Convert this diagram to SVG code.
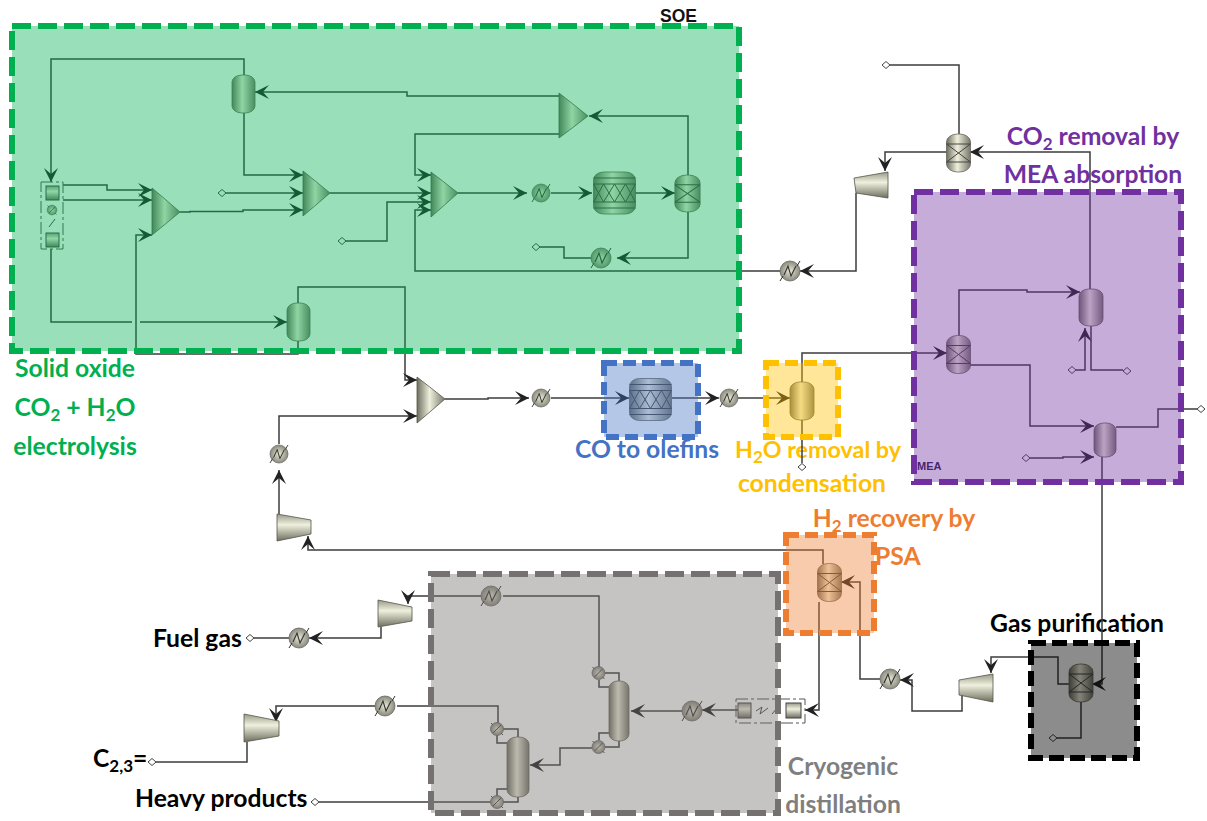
<svg xmlns="http://www.w3.org/2000/svg" width="1207" height="821" viewBox="0 0 1207 821">
<style>
.c{fill:none;stroke:#3c3c3c;stroke-width:1.5}
.a{marker-end:url(#ah)}
.t{fill:url(#gh);stroke:#55554a;stroke-width:.8}
.comp{fill:url(#gv);stroke:#55554a;stroke-width:.8}
.v{fill:url(#gh);stroke:#66665a;stroke-width:.8}
.ln{fill:none;stroke:#444;stroke-width:1}
.fr{fill:none;stroke:#555;stroke-width:1;stroke-dasharray:12 3 3 3}
.box{fill:url(#gv);stroke:#444;stroke-width:1}
.reg{stroke-width:6}
.lb{font-family:Lato,"Open Sans","Liberation Sans",sans-serif;font-weight:700;font-size:24.700px}
.m{text-anchor:middle}
.sb{font-size:17px}
</style>
<defs>
<linearGradient id="gh" x1="0" x2="1" y1="0" y2="0"><stop offset="0" stop-color="#6e6e60"/><stop offset=".45" stop-color="#efefdc"/><stop offset="1" stop-color="#77776a"/></linearGradient>
<linearGradient id="gv" x1="0" x2="0" y1="0" y2="1"><stop offset="0" stop-color="#9a9a8a"/><stop offset=".4" stop-color="#f0f0de"/><stop offset="1" stop-color="#6e6e60"/></linearGradient>
<radialGradient id="gr"><stop offset="0" stop-color="#e8e8d8"/><stop offset="1" stop-color="#8a8a7c"/></radialGradient>
<marker id="ah" markerUnits="userSpaceOnUse" markerWidth="16" markerHeight="16" refX="14" refY="7" orient="auto" overflow="visible"><path d="M0,0 L14,7 L0,14 L6,7 Z" fill="#222"/></marker>
<g id="hx"><circle r="10" fill="url(#gr)" stroke="#666" stroke-width=".8"/><path d="M-6,4 L-2,-5 L1,5 L6,-5" fill="none" stroke="#333" stroke-width="1.100"/><path d="M-10,10 L-7,5 M7,-5 L10,-10" stroke="#333" fill="none"/></g>
<g id="cx"><rect class="v" x="-12" y="-19" width="24" height="38" rx="11" ry="8"/><path class="ln" d="M-12,-9H12M-12,9H12M-12,-9L12,9M12,-9L-12,9"/></g>
<g id="rx"><rect class="v" x="-21" y="-21" width="42" height="42" rx="10" ry="8"/><path class="ln" d="M-21,-15H21M-21,-9H21M-21,9H21M-21,15H21M-21,-9L-11,9L0,-9L11,9L21,-9M-21,9L-11,-9L0,9L11,-9L21,9"/></g>
<g id="cd"><circle r="6.500" fill="url(#gr)" stroke="#666" stroke-width=".8"/><path d="M-4,4L4,-4M-6,-6L-4,-4M4,4L6,6" stroke="#444"/></g>
<path id="dm" d="M-4,0L0,-3.500L4,0L0,3.500Z" fill="#fff" stroke="#444" stroke-width="1"/>
</defs>

<g id="labels">
<text class="lb m" x="75" y="377" fill="#00b050">Solid oxide</text>
<text class="lb m" x="75" y="416" fill="#00b050">CO<tspan class="sb" dy="5">2</tspan><tspan dy="-5"> + H</tspan><tspan class="sb" dy="5">2</tspan><tspan dy="-5">O</tspan></text>
<text class="lb m" x="75" y="455" fill="#00b050">electrolysis</text>
<text class="lb m" x="647" y="458" fill="#4472c4">CO to olefins</text>
<text class="lb m" x="818" y="458" fill="#ffc000" style="font-size:23.300px">H<tspan class="sb" dy="5">2</tspan><tspan dy="-5">O removal by</tspan></text>
<text class="lb m" x="812" y="492" fill="#ffc000">condensation</text>
<text class="lb m" x="894" y="527" fill="#ed7d31">H<tspan class="sb" dy="5">2</tspan><tspan dy="-5"> recovery by</tspan></text>
<text class="lb" x="875" y="565" fill="#ed7d31">PSA</text>
<text class="lb m" x="1093" y="145" fill="#7030a0">CO<tspan class="sb" dy="5">2</tspan><tspan dy="-5"> removal by</tspan></text>
<text class="lb m" x="1093" y="183" fill="#7030a0">MEA absorption</text>
<text class="lb m" x="1077" y="632" fill="#000">Gas purification</text>
<text class="lb" x="153" y="647" fill="#000">Fuel gas</text>
<text class="lb" x="93" y="767" fill="#000">C<tspan class="sb" dy="5">2,3</tspan><tspan dy="-5">=</tspan></text>
<text class="lb" x="135" y="807" fill="#000">Heavy products</text>
<text class="lb m" x="843" y="775" fill="#7f7f7f">Cryogenic</text>
<text class="lb m" x="843" y="813" fill="#7f7f7f">distillation</text>
<text x="917" y="470" font-family="Liberation Sans,sans-serif" font-weight="700" font-size="11" fill="#2a1a50">MEA</text>
</g>

<g id="connectors">
<path class="c a" d="M244,75V59H51V182"/>
<path class="c a" d="M559,96H407V92H255"/>
<path class="c a" d="M559,134H415V175H431"/>
<path class="c a" d="M244,113V175H303"/>
<path class="c a" d="M222,193H303"/>
<path class="c a" d="M180,212H190V211.500H243V210H303"/>
<path class="c a" d="M63,185H107V190H152"/>
<path class="c a" d="M63,200H152"/>
<path class="c a" d="M298,341V354H136V235H152"/>
<path class="c a" d="M51,249V322H132M140,322H287"/>
<path class="c a" d="M330,193H431"/>
<path class="c a" d="M342,241H387V202H431"/>
<path class="c a" d="M458,193H527"/>
<path class="c a" d="M551,193H592"/>
<path class="c a" d="M635,193H675"/>
<path class="c a" d="M688,175V116H589"/>
<path class="c a" d="M688,212V258H617"/>
<path class="c" d="M591,258H564V247H536"/>
<path class="c a" d="M780,271H415V210H431"/>
<path class="c a" d="M298,303V287H405V380H417"/>
<path class="c a" d="M279,444V416H417"/>
<path class="c a" d="M279,514V470"/>
<path class="c a" d="M823,564V550H308V536"/>
<path class="c a" d="M445,399H488V398H529"/>
<path class="c a" d="M551,398H629"/>
<path class="c a" d="M672,398H719"/>
<path class="c a" d="M738,398H790"/>
<path class="c a" d="M802,382V353H947"/>
<path class="c" d="M802,420V463"/>
<path class="c a" d="M959,336V290H1027V292H1080"/>
<path class="c a" d="M1090,289V152H970"/>
<path class="c" d="M959,134V65H890"/>
<path class="c a" d="M947,152H885V171"/>
<path class="c a" d="M856,193V271H800"/>
<path class="c a" d="M1076,370H1085V328"/>
<path class="c" d="M1091,326V370H1123"/>
<path class="c a" d="M970,365H1030V426H1094"/>
<path class="c" d="M1116,427H1158V409H1197"/>
<path class="c a" d="M1030,458H1063V457H1094"/>
<path class="c a" d="M1102,457V684H1092"/>
<path class="c a" d="M1070,684H1058V657H991V673"/>
<path class="c" d="M1081,702V738H1057"/>
<path class="c a" d="M962,695V711H912V680H900"/>
<path class="c a" d="M880,679H860V582H841"/>
<path class="c a" d="M819,602V710H805"/>
<path class="c a" d="M738,710H702"/>
<path class="c a" d="M682,711H631"/>
<path class="c" d="M599,667V596H503"/>
<path class="c a" d="M481,596H408V604"/>
<path class="c a" d="M381,627V638H309"/>
<path class="c" d="M289,638H254"/>
<path class="c a" d="M592,748H560V765H530"/>
<path class="c" d="M605,673H619V681M599,680V687H609M599,740V733H609M619,741V747H605"/>
<path class="c" d="M498,724V706H397"/>
<path class="c a" d="M375,706H276V722"/>
<path class="c" d="M247,742V762H156"/>
<path class="c" d="M497,802H319"/>
<path class="c" d="M503,729H518V737M497,735V743H507M497,796V789H507M518,797V802H503"/>
</g>

<g id="electrolyzer-soe"><rect class="fr" x="41" y="182" width="22" height="67"/><rect class="box" x="46" y="186" width="13" height="14"/><rect class="box" x="46" y="233" width="13" height="14"/><use href="#cd" transform="translate(52 210) scale(.75)"/><path class="ln" d="M49,227L55,219"/></g>
<g id="vessel-a"><rect class="v" x="232" y="75" width="23" height="38" rx="10" ry="7"/></g>
<g id="vessel-b"><rect class="v" x="287" y="303" width="23" height="38" rx="10" ry="7"/></g>
<g id="mixer-a"><polygon class="t" points="152,188 180,212 152,235"/></g>
<g id="mixer-b"><polygon class="t" points="303,171 330,193 303,216"/></g>
<g id="mixer-c"><polygon class="t" points="431,172 458,193 431,217"/></g>
<g id="splitter"><polygon class="t" points="559,93 588,116 559,138"/></g>
<g id="heater-1"><use href="#hx" transform="translate(541 193) scale(.9)"/></g>
<g id="reactor-soe"><use href="#rx" transform="translate(614.500 193)"/></g>
<g id="column-1"><use href="#cx" transform="translate(687.500 193.500) scale(1.050 .97)"/></g>
<g id="heater-2"><use href="#hx" transform="translate(601 258)"/></g>
<g id="heater-3"><use href="#hx" transform="translate(790 271)"/></g>
<g id="column-top"><use href="#cx" transform="translate(958.500 153)"/></g>
<g id="compressor-top"><polygon class="comp" points="854,178 888,172 888,198 856,193"/></g>
<use id="end-top" href="#dm" x="886" y="65"/>
<use id="end-2" href="#dm" x="222" y="193"/>
<use id="end-3" href="#dm" x="342" y="241"/>
<use id="end-4" href="#dm" x="536" y="247"/>
<g id="column-mea"><use href="#cx" transform="translate(958.500 354.500)"/></g>
<g id="vessel-f"><rect class="v" x="1079" y="289" width="24" height="37" rx="10" ry="7"/></g>
<g id="vessel-h"><rect class="v" x="1094" y="423" width="22" height="34" rx="10" ry="7"/></g>
<use id="end-5" href="#dm" x="1072" y="370"/>
<use id="end-6" href="#dm" x="1127" y="371"/>
<use id="end-7" href="#dm" x="1026" y="458"/>
<use id="end-8" href="#dm" x="1201" y="409"/>
<use id="end-9" href="#dm" x="802" y="467"/>
<g id="mixer-d"><polygon class="t" points="417,377 445,399 417,423"/></g>
<g id="heater-4"><use href="#hx" transform="translate(541 398) scale(.9)"/></g>
<g id="reactor-col"><use href="#rx" transform="translate(650.500 399.500)"/></g>
<g id="heater-5"><use href="#hx" transform="translate(729 398) scale(.9)"/></g>
<g id="vessel-water"><rect class="v" x="790" y="382" width="24" height="38" rx="10" ry="7"/></g>
<g id="heater-6"><use href="#hx" transform="translate(279 454) scale(.9)"/></g>
<g id="compressor-recycle"><polygon class="comp" points="277,514 311,520 311,534 277,541"/></g>
<g id="column-psa"><use href="#cx" transform="translate(829.500 582.500)"/></g>
<g id="column-gas"><use href="#cx" transform="translate(1081 683)"/></g>
<use id="end-10" href="#dm" x="1053" y="738"/>
<g id="compressor-gas"><polygon class="comp" points="959,680 993,674 993,702 959,695"/></g>
<g id="heater-7"><use href="#hx" transform="translate(890 679)"/></g>
<g id="exchanger-cryo"><rect class="fr" x="736" y="699" width="69" height="24"/><rect class="box" x="738" y="703" width="13" height="15"/><rect class="box" x="786" y="703" width="15" height="15"/><path class="ln" d="M756,711L762,707L760,714L768,708M772,714L778,707"/></g>
<g id="heater-8"><use href="#hx" transform="translate(692 711)"/></g>
<g id="tower-1"><rect class="v" x="609" y="681" width="20" height="60" rx="9" ry="7"/></g>
<g id="cond-1"><use href="#cd" transform="translate(598.500 673)"/></g>
<g id="cond-2"><use href="#cd" transform="translate(598.500 747)"/></g>
<g id="tower-2"><rect class="v" x="507" y="737" width="22" height="60" rx="10" ry="7"/></g>
<g id="cond-3"><use href="#cd" transform="translate(497 729)"/></g>
<g id="cond-4"><use href="#cd" transform="translate(497 802)"/></g>
<g id="heater-9"><use href="#hx" transform="translate(491 596)"/></g>
<g id="compressor-fuel"><polygon class="comp" points="378,600 412,607 412,621 378,627"/></g>
<g id="heater-10"><use href="#hx" transform="translate(299 638)"/></g>
<use id="end-fuel" href="#dm" x="250" y="638"/>
<g id="heater-11"><use href="#hx" transform="translate(385 706)"/></g>
<g id="compressor-c23"><polygon class="comp" points="244,714 279,721 279,736 244,742"/></g>
<use id="end-c23" href="#dm" x="152" y="762"/>
<use id="end-heavy" href="#dm" x="315" y="802"/>

<g id="region-soe"><rect class="reg" x="12" y="26" width="727" height="325" fill="#00b050" fill-opacity=".4" stroke="#00b050" stroke-dasharray="19 7"/></g>
<g id="region-co"><rect class="reg" x="604" y="363" width="94" height="74" fill="#4472c4" fill-opacity=".4" stroke="#4472c4" stroke-dasharray="13 6"/></g>
<g id="region-water"><rect class="reg" x="766" y="363" width="72" height="74" fill="#ffc000" fill-opacity=".4" stroke="#ffc000" stroke-dasharray="13 6"/></g>
<g id="region-mea"><rect class="reg" x="914" y="192" width="267" height="290" fill="#7030a0" fill-opacity=".4" stroke="#7030a0" stroke-dasharray="19 7"/></g>
<g id="region-psa"><rect class="reg" x="786" y="535" width="88" height="98" fill="#ed7d31" fill-opacity=".4" stroke="#ed7d31" stroke-dasharray="13 6"/></g>
<g id="region-cryo"><rect class="reg" x="431" y="574" width="347" height="239" fill="#767171" fill-opacity=".42" stroke="#767171" stroke-dasharray="19 7"/></g>
<g id="region-gas"><rect x="1031" y="643" width="106" height="115" fill="#000" fill-opacity=".45" stroke="#000" stroke-width="6" stroke-dasharray="15 6"/></g>
<text x="660" y="22" font-family="Liberation Sans,sans-serif" font-weight="700" font-size="17.500" fill="#111">SOE</text>
</svg>
